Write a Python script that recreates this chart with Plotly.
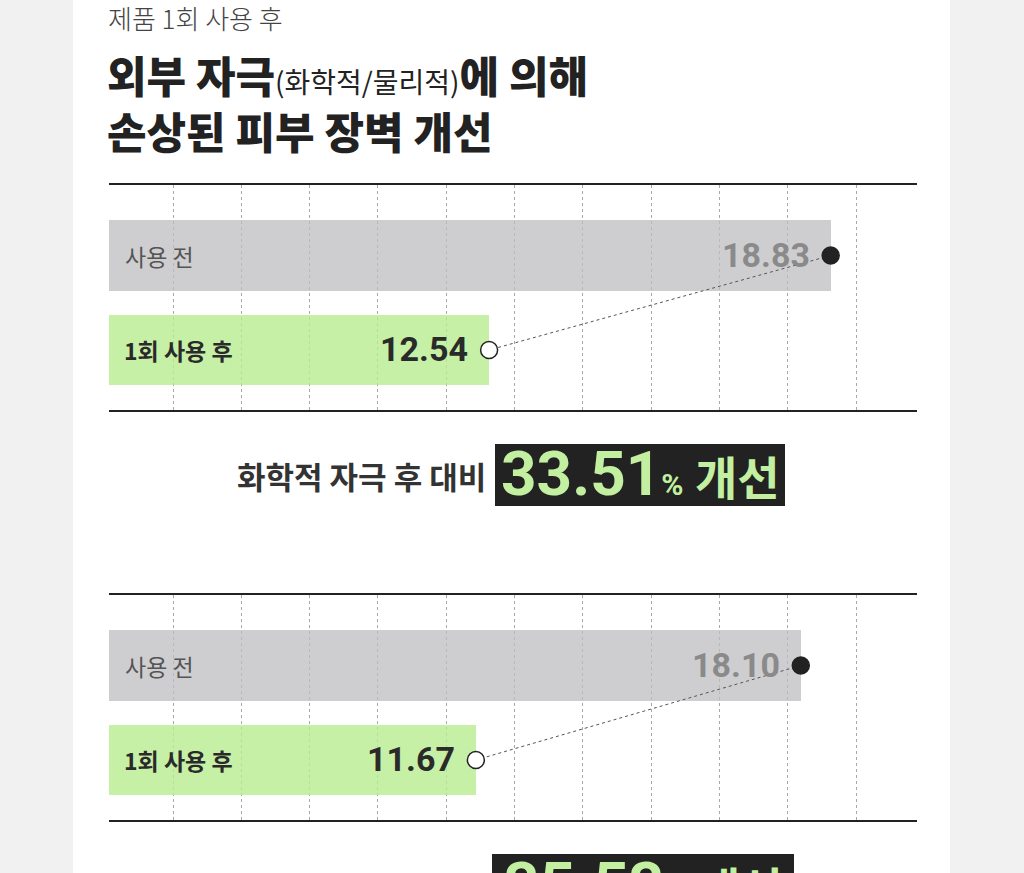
import plotly.graph_objects as go

# ---------------- data ----------------
categories = ["사용 전", "1회 사용 후"]
chem_values = [18.83, 12.54]
phys_values = [18.10, 11.67]
chem_label = "화학적 자극 후 대비"
phys_label = "물리적 자극 후 대비"
chem_improve = "33.51"
phys_improve = "35.53"
subtitle = "제품 1회 사용 후"
title_line1 = ["외부 자극", "(화학적/물리적)", "에 의해"]
title_line2 = "손상된 피부 장벽 개선"

W, H = 1024, 873
def px(x):
    return x / W
def py(y):
    return 1 - y / H

PLOT_L, PLOT_R = 109, 917
panels = [
    dict(vals=chem_values, top=185, bot=410, xr=[5.54, 20.42], ax="", label=chem_label,
         improve=chem_improve, box=(495, 444, 785, 506)),
    dict(vals=phys_values, top=595, bot=820, xr=[4.41, 20.40], ax="2", label=phys_label,
         improve=phys_improve, box=(492, 854, 794, 916)),
]

BAR_COLORS = ["rgba(190,190,193,0.76)", "rgba(184,236,144,0.80)"]
NUM_FONT = "Roboto, Noto Sans CJK KR"
KR_FONT = "Noto Sans CJK KR"

fig = go.Figure()
shapes = []
annotations = []

# white panel
shapes.append(dict(type="rect", xref="paper", yref="paper", x0=px(73), x1=px(950),
                   y0=0, y1=1, fillcolor="white", line_width=0, layer="below"))

layout_axes = {}
for p in panels:
    xa = "x" + p["ax"]
    ya = "y" + p["ax"]
    fig.add_trace(go.Bar(
        x=p["vals"], y=categories, orientation="h", xaxis=xa, yaxis=ya,
        marker=dict(color=BAR_COLORS, line_width=0), width=0.75,
        hoverinfo="skip", showlegend=False))
    fig.add_trace(go.Scatter(
        x=p["vals"], y=categories, xaxis=xa, yaxis=ya, mode="lines+markers",
        line=dict(color="#555555", width=1, dash="dot"),
        marker=dict(size=17, color=["#222222", "#ffffff"],
                    line=dict(color="#222222", width=1.5)),
        hoverinfo="skip", showlegend=False, cliponaxis=False))

    r0, r1 = p["xr"]
    ppu = (PLOT_R - PLOT_L) / (r1 - r0)
    tick0 = r0 + (173 - PLOT_L) / ppu
    dtick = 68.3 / ppu
    layout_axes["xaxis" + p["ax"]] = dict(
        domain=[px(PLOT_L), px(PLOT_R)], range=p["xr"], anchor=ya,
        showline=True, mirror=True, linecolor="#222222", linewidth=2,
        showgrid=True, gridcolor="#a8a8a8", gridwidth=1, griddash="3px,3px",
        tick0=tick0, dtick=dtick, showticklabels=False, ticks="",
        zeroline=False, fixedrange=True)
    layout_axes["yaxis" + p["ax"]] = dict(
        domain=[py(p["bot"]), py(p["top"])], range=[1.635, -0.746], anchor=xa,
        type="category", categoryorder="array", categoryarray=categories,
        showgrid=False, showticklabels=False, ticks="", zeroline=False,
        showline=False, fixedrange=True)

    # category labels inside bars
    annotations.append(dict(xref=xa + " domain", yref=ya, x=0, y=categories[0],
                            xanchor="left", yanchor="middle", xshift=14, showarrow=False,
                            text=categories[0],
                            font=dict(family=KR_FONT, size=23, color="#555555", weight=400)))
    annotations.append(dict(xref=xa + " domain", yref=ya, x=0, y=categories[1],
                            xanchor="left", yanchor="middle", xshift=13, showarrow=False,
                            text=categories[1],
                            font=dict(family=KR_FONT, size=23, color="#2a2a2a", weight=700)))
    # value labels
    annotations.append(dict(xref=xa, yref=ya, x=p["vals"][0], y=categories[0],
                            xanchor="right", yanchor="middle", xshift=-19, yshift=1,
                            showarrow=False, text="%.2f" % p["vals"][0],
                            font=dict(family=NUM_FONT, size=34, color="#8a8a8a", weight=700)))
    annotations.append(dict(xref=xa, yref=ya, x=p["vals"][1], y=categories[1],
                            xanchor="right", yanchor="middle", xshift=-19, yshift=1,
                            showarrow=False, text="%.2f" % p["vals"][1],
                            font=dict(family=NUM_FONT, size=34, color="#2a2a2a", weight=700)))

    # summary box
    bx0, by0, bx1, by1 = p["box"]
    shapes.append(dict(type="rect", xref="paper", yref="paper", x0=px(bx0), x1=px(bx1),
                       y0=py(by1), y1=py(by0), fillcolor="#222222", line_width=0))
    cy = (by0 + by1) / 2
    annotations.append(dict(xref="paper", yref="paper", x=px(bx0 - 7), y=py(cy + 1),
                            xanchor="right", yanchor="middle", showarrow=False,
                            text=p["label"],
                            font=dict(family=KR_FONT, size=31, color="#333333", weight=700)))
    annotations.append(dict(xref="paper", yref="paper", x=px((bx0 + bx1) / 2), y=py(cy - 1),
                            xanchor="center", yanchor="middle", showarrow=False,
                            text=(p["improve"] +
                                  "<span style='font-size:30px'>%</span>"
                                  "<span style='font-size:46px'> 개선</span>"),
                            font=dict(family="Roboto, Noto Sans CJK KR", size=62,
                                      color="#c2f0a0", weight=700)))

# titles
annotations.append(dict(xref="paper", yref="paper", x=px(106), y=py(17),
                        xanchor="left", yanchor="middle", showarrow=False, text=subtitle,
                        font=dict(family=KR_FONT, size=26, color="#444444", weight=300)))
annotations.append(dict(xref="paper", yref="paper", x=px(105), y=py(101.5),
                        xanchor="left", yanchor="middle", align="left", showarrow=False,
                        text=(title_line1[0] +
                              "<span style='font-size:28px;font-weight:400'>" + title_line1[1] + "</span>" +
                              title_line1[2] + "<br>" + title_line2),
                        font=dict(family=KR_FONT, size=43, color="#222222", weight=800)))

fig.update_layout(
    width=W, height=H, margin=dict(l=0, r=0, t=0, b=0),
    paper_bgcolor="#f1f1f1", plot_bgcolor="rgba(0,0,0,0)",
    bargap=0, showlegend=False, shapes=shapes, annotations=annotations,
    **layout_axes)

fig.write_html("out.html", config={"displayModeBar": False})
